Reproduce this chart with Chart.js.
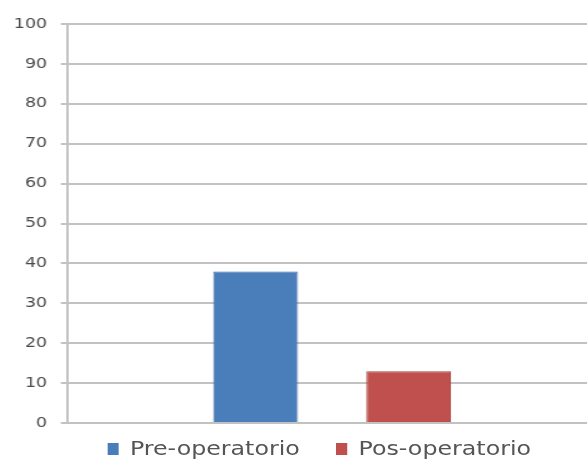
<!DOCTYPE html>
<html>
<head>
<meta charset="utf-8">
<script src="https://cdn.jsdelivr.net/npm/chart.js@4/dist/chart.umd.min.js"></script>
<style>
  html, body { margin: 0; padding: 0; background: #fff; overflow: hidden; }
  /* chart is drawn narrow and widened to the page */
  #wrap { position: relative; width: 478px; height: 462px; transform: scaleX(1.249); transform-origin: 0 0; }
  #legend {
    position: absolute; left: 86px; top: 439px;
    display: flex; align-items: center;
    font: 19px "DejaVu Sans", sans-serif; line-height: 19px; color: #555;
  }
  #legend .item { display: flex; align-items: center; margin-right: 29px; }
  #legend .box { width: 9px; height: 12px; margin-right: 9px; }
</style>
</head>
<body>
<div id="wrap">
  <canvas id="chart"></canvas>
  <div id="legend"></div>
</div>
<script>
const categories = [""];
const seriesNames = ["Pre-operatorio", "Pos-operatorio"];
const preValues = [38];
const posValues = [13];
const yTicks = [0, 10, 20, 30, 40, 50, 60, 70, 80, 90, 100];

const COLORS = {
  pre: "#4a7ebb",
  preEdge: "#3e6aa0",
  pos: "#c0504d",
  posEdge: "#a54340",
  grid: "#c2c2c2",
  text: "#4a4a4a",
};

const chart = new Chart(document.getElementById("chart"), {
  type: "bar",
  data: {
    labels: categories,
    datasets: [
      { label: seriesNames[0], data: preValues, backgroundColor: COLORS.pre, borderColor: COLORS.preEdge, borderWidth: 1 },
      { label: seriesNames[1], data: posValues, backgroundColor: COLORS.pos, borderColor: COLORS.posEdge, borderWidth: 1 },
    ]
  },
  options: {
    responsive: true,
    maintainAspectRatio: false,
    animation: false,
    categoryPercentage: 0.578,
    barPercentage: 0.553,
    layout: { padding: { left: 0, right: 0, top: 24, bottom: 31 } },
    scales: {
      x: {
        grid: { display: false },
        border: { display: false },
        ticks: { display: false },
      },
      y: {
        min: 0,
        max: 100,
        afterBuildTicks: axis => { axis.ticks = yTicks.map(v => ({ value: v })); },
        grid: { color: COLORS.grid, lineWidth: 2, tickLength: 5 },
        border: { color: COLORS.grid, width: 2 },
        ticks: { color: COLORS.text, padding: 11, font: { family: "DejaVu Sans", size: 14 } },
      }
    },
    plugins: {
      legend: { display: false },
      tooltip: { enabled: false },
    }
  }
});

// legend below the plot, built from the datasets
const legendEl = document.getElementById("legend");
chart.data.datasets.forEach(ds => {
  const item = document.createElement("span");
  item.className = "item";
  const box = document.createElement("span");
  box.className = "box";
  box.style.background = ds.backgroundColor;
  item.appendChild(box);
  item.appendChild(document.createTextNode(ds.label));
  legendEl.appendChild(item);
});
</script>
</body>
</html>
